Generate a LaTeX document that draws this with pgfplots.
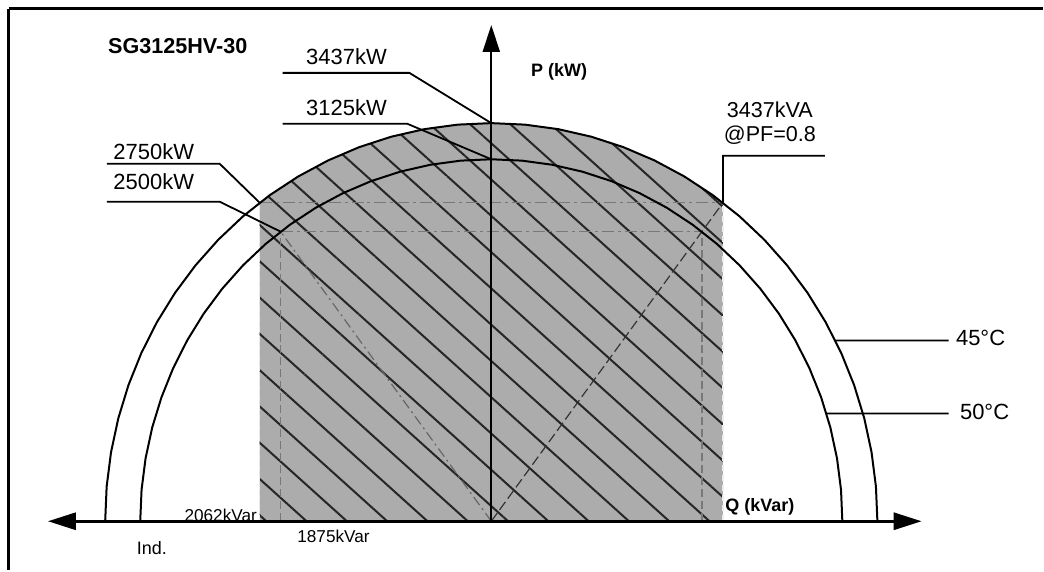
\documentclass[border=0pt]{standalone}
\usepackage{pgfplots}
\pgfplotsset{compat=1.18}
\usetikzlibrary{arrows.meta,patterns.meta}
\usepackage{fontspec}
\setmainfont{Liberation Sans}
\definecolor{shade}{RGB}{172,172,172}
\definecolor{dashgray}{RGB}{120,120,120}

\begin{document}
\begin{tikzpicture}
\path (0,0) rectangle (522pt,285.5pt);
\begin{axis}[at={(0,0)}, anchor=south west,
  width=522pt, height=285.5pt, scale only axis,
  axis lines=none, xmin=-4373.3, xmax=4906.7, ymin=-422.4, ymax=4500,
  clip=false]

% operating area: |Q| <= 2062 kVar under the 3437 kVA circle
\addplot[fill=shade, draw=none,
  postaction={pattern={Lines[angle=-42,distance=13.5pt,line width=1pt]}, pattern color=black!85}]
  coordinates {(-2062,0) (-2062,2750) (-1971.4,2815.4) (-1718.5,2976.5) (-1452.5,3115.0)
  (-1175.5,3229.7) (-889.6,3319.9) (-596.8,3384.8) (-299.6,3423.9) (0,3437)
  (299.6,3423.9) (596.8,3384.8) (889.6,3319.9) (1175.5,3229.7) (1452.5,3115.0)
  (1718.5,2976.5) (1971.4,2815.4) (2062,2750) (2062,0)} -- cycle;

% limit lines
\addplot[dashgray, line width=0.8pt, dash pattern=on 6pt off 2pt on 1.5pt off 2pt] coordinates {(-2062,2750) (2062,2750)};
\addplot[dashgray, line width=0.8pt, dash pattern=on 6pt off 2pt on 1.5pt off 2pt] coordinates {(-1875,2500) (1875,2500)};
\addplot[white!85!gray, line width=0.8pt, dash pattern=on 3pt off 2pt] coordinates {(-2062,0) (-2062,2750)};
\addplot[white!85!gray, line width=0.8pt, dash pattern=on 3pt off 2pt] coordinates {(2062,0) (2062,2750)};
\addplot[dashgray, line width=0.8pt, dash pattern=on 4pt off 2pt] coordinates {(-1875,0) (-1875,2500)};
\addplot[dashgray, line width=0.8pt, dash pattern=on 4pt off 2pt] coordinates {(1875,0) (1875,2500)};
% PF = 0.8 lines
\addplot[black!80, line width=0.6pt, dash pattern=on 5pt off 2pt] coordinates {(0,0) (2062,2750)};
\addplot[black!60, line width=0.6pt, dash pattern=on 5pt off 2pt on 1pt off 2pt] coordinates {(0,0) (-1875,2500)};

% 45 C: 3437 kVA
\addplot[black, line width=1pt] coordinates {(3437,0) (3423.9,299.6) (3384.8,596.8) (3319.9,889.6)
  (3229.7,1175.5) (3115.0,1452.5) (2976.5,1718.5) (2815.4,1971.4) (2632.9,2209.3) (2430.3,2430.3)
  (2209.3,2632.9) (1971.4,2815.4) (1718.5,2976.5) (1452.5,3115.0) (1175.5,3229.7) (889.6,3319.9)
  (596.8,3384.8) (299.6,3423.9) (0,3437) (-299.6,3423.9) (-596.8,3384.8) (-889.6,3319.9)
  (-1175.5,3229.7) (-1452.5,3115.0) (-1718.5,2976.5) (-1971.4,2815.4) (-2209.3,2632.9)
  (-2430.3,2430.3) (-2632.9,2209.3) (-2815.4,1971.4) (-2976.5,1718.5) (-3115.0,1452.5)
  (-3229.7,1175.5) (-3319.9,889.6) (-3384.8,596.8) (-3423.9,299.6) (-3437,0)};
% 50 C: 3125 kVA
\addplot[black, line width=1pt] coordinates {(3125,0) (3113.1,272.4) (3077.5,542.7) (3018.5,808.8)
  (2936.5,1068.8) (2832.2,1320.7) (2706.3,1562.5) (2559.8,1792.4) (2393.9,2008.7) (2209.7,2209.7)
  (2008.7,2393.9) (1792.4,2559.8) (1562.5,2706.3) (1320.7,2832.2) (1068.8,2936.5) (808.8,3018.5)
  (542.7,3077.5) (272.4,3113.1) (0,3125) (-272.4,3113.1) (-542.7,3077.5) (-808.8,3018.5)
  (-1068.8,2936.5) (-1320.7,2832.2) (-1562.5,2706.3) (-1792.4,2559.8) (-2008.7,2393.9)
  (-2209.7,2209.7) (-2393.9,2008.7) (-2559.8,1792.4) (-2706.3,1562.5) (-2832.2,1320.7)
  (-2936.5,1068.8) (-3018.5,808.8) (-3077.5,542.7) (-3113.1,272.4) (-3125,0)};

% axes
\draw[line width=1.5pt, -{Triangle[length=14pt,width=8.5pt]}] (axis cs:0,0) -- (axis cs:3831,0);
\draw[line width=1.5pt, -{Triangle[length=14pt,width=8.5pt]}] (axis cs:0,0) -- (axis cs:-3947,0);
\draw[line width=1.1pt, -{Triangle[length=13.5pt,width=8.5pt]}] (axis cs:0,0) -- (axis cs:0,4284);

\coordinate (t45) at (axis cs:0,3437);
\coordinate (t50) at (axis cs:0,3125);
\coordinate (c45l) at (axis cs:-2062,2750);
\coordinate (c50l) at (axis cs:-1875,2500);
\coordinate (c45r) at (axis cs:2062,2750);
\coordinate (a45) at (axis cs:3063,1560);
\coordinate (a50) at (axis cs:2983,931);
\end{axis}

% annotations, in pixel units of the picture (origin top left)
\begin{scope}[shift={(0pt,285.5pt)}, x=0.5pt, y=-0.5pt]
\draw[line width=1.5pt] (9,9) -- (1044,9);
\draw[line width=1.5pt] (9,9) -- (9,571);

\draw[line width=0.9pt] (283,73) -- (410,73) -- (t45);
\draw[line width=0.9pt] (283,124) -- (408,124) -- (t50);
\draw[line width=0.9pt] (107,164) -- (220,164) -- (c45l);
\draw[line width=0.9pt] (107,202) -- (220,202) -- (c50l);
\draw[line width=0.9pt] (826,156) -- (724,156) -- (c45r);
\draw[line width=0.9pt] (a45) -- (950,341);
\draw[line width=0.9pt] (a50) -- (950,414);

\node[font=\bfseries\fontsize{10.8}{13}\selectfont] at (178,46) {SG3125HV-30};
\node[font=\fontsize{11}{13}\selectfont] at (347,57) {3437kW};
\node[font=\fontsize{11}{13}\selectfont] at (347,108) {3125kW};
\node[font=\fontsize{11}{13}\selectfont] at (154,152) {2750kW};
\node[font=\fontsize{11}{13}\selectfont] at (154,182) {2500kW};
\node[font=\bfseries\fontsize{9}{11}\selectfont] at (560,72) {P (kW)};
\node[font=\fontsize{10.8}{13}\selectfont] at (771,110) {3437kVA};
\node[font=\fontsize{10.8}{13}\selectfont] at (771,135) {@PF=0.8};
\node[font=\fontsize{11}{13}\selectfont] at (982,338) {45°C};
\node[font=\fontsize{11}{13}\selectfont] at (986,413) {50°C};
\node[font=\bfseries\fontsize{9}{11}\selectfont] at (761,508) {Q (kVar)};
\node[font=\fontsize{8.6}{10}\selectfont] at (221,516) {2062kVar};
\node[font=\fontsize{8.6}{10}\selectfont] at (334,537) {1875kVar};
\node[font=\fontsize{9}{11}\selectfont] at (152,549) {Ind.};
\end{scope}
\end{tikzpicture}
\end{document}
